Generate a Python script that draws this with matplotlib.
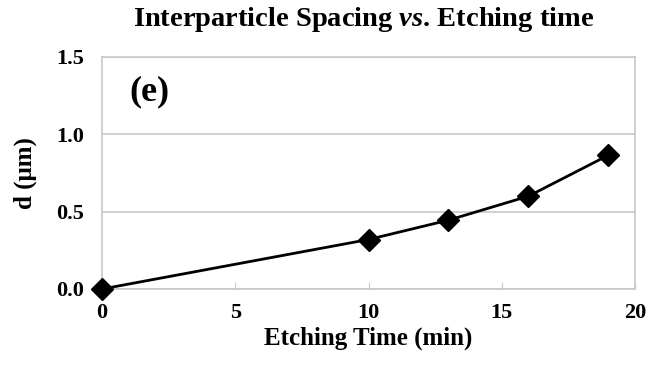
import matplotlib.pyplot as plt

plt.rcParams['font.family'] = ['Liberation Serif', 'DejaVu Serif']
plt.rcParams['font.weight'] = 'bold'
plt.rcParams['mathtext.fontset'] = 'custom'
plt.rcParams['mathtext.rm'] = 'Liberation Serif:bold'
plt.rcParams['mathtext.it'] = 'Liberation Serif:italic:bold'

etch_time = [0, 10, 13, 16, 19]
spacing = [0.0, 0.32, 0.445, 0.60, 0.865]
x_ticks = [0, 5, 10, 15, 20]
y_ticks = [0.0, 0.5, 1.0, 1.5]

fig = plt.figure(figsize=(6.47, 3.66), dpi=100)
ax = fig.add_axes([102 / 647, 1 - 289 / 366, (635 - 102) / 647, (289 - 57) / 366])

grid_grey = '#c8c8c8'
ax.set_xlim(0, 20)
ax.set_ylim(0, 1.5)
ax.set_yticks(y_ticks)
ax.set_yticklabels([f'{v:.1f}' for v in y_ticks])
ax.set_xticks(x_ticks)
ax.yaxis.grid(True, color=grid_grey, linewidth=1.2)
ax.set_axisbelow(True)
for side in ax.spines.values():
    side.set_color(grid_grey)
    side.set_linewidth(1.2)
ax.tick_params(axis='y', length=0, pad=13, labelsize=16)
ax.tick_params(axis='x', direction='in', length=5, color=grid_grey, pad=10, labelsize=16)

ax.plot(etch_time, spacing, color='black', linewidth=2, marker='D',
        markersize=11, clip_on=False, zorder=3)

ax.set_xlabel('Etching Time (min)', fontsize=18, fontweight='bold', labelpad=3)
ax.set_ylabel('d (μm)', fontsize=18, fontweight='bold', labelpad=14)
ax.text(0.052, 0.85, '(e)', transform=ax.transAxes, fontsize=26,
        fontweight='bold', va='center', ha='left')

fig.text(364 / 647, 1 - 19 / 366,
         r'Interparticle Spacing $\it{vs}$. Etching time',
         ha='center', va='center', fontsize=20.5, fontweight='bold')

fig.savefig('out.png', dpi=100)
